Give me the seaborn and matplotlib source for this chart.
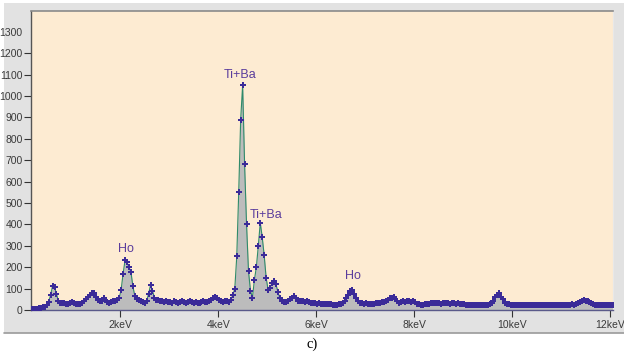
import numpy as np
import pandas as pd
import matplotlib
matplotlib.use("Agg")
import matplotlib.pyplot as plt
from matplotlib.patches import Rectangle
import seaborn as sns

# ---- data (EDS spectrum, counts per channel, 0.04 keV channels starting at 0.18 keV)
e_start = 0.18
e_step = 0.04
counts = [
    4, 5, 4, 6, 8, 9, 12, 16, 25, 38, 70, 112, 108, 75, 40, 34, 32, 35, 30, 28, 31, 38, 35, 30, 28,
    30, 35, 42, 52, 62, 70, 78, 80, 62, 48, 40, 44, 55, 48, 38, 35, 37, 40, 44, 46, 55, 95, 170, 232, 222,
    200, 178, 110, 65, 52, 46, 42, 36, 32, 42, 75, 117, 88, 58, 48, 45, 42, 40, 38, 41, 37, 39, 35, 40, 37,
    35, 38, 42, 36, 34, 38, 40, 36, 34, 38, 35, 33, 37, 40, 36, 38, 42, 47, 55, 62, 56, 46, 40, 38, 42,
    40, 38, 48, 70, 100, 250, 550, 890, 1051, 680, 400, 180, 90, 58, 140, 200, 300, 408, 340, 255, 150, 95, 105, 125, 137,
    120, 85, 55, 40, 38, 36, 42, 50, 58, 65, 55, 42, 40, 44, 42, 38, 40, 36, 34, 35, 32, 30, 31, 28, 30,
    28, 27, 29, 26, 25, 24, 23, 26, 28, 32, 40, 55, 70, 90, 92, 75, 55, 40, 34, 32, 30, 31, 29, 30, 28,
    30, 32, 31, 34, 36, 38, 42, 48, 54, 58, 62, 52, 40, 34, 36, 40, 38, 42, 40, 38, 40, 36, 30, 26, 24,
    23, 26, 28, 30, 32, 31, 33, 34, 32, 30, 33, 35, 34, 31, 30, 33, 31, 29, 32, 30, 27, 26, 25, 24, 23,
    24, 23, 25, 24, 23, 22, 24, 23, 25, 26, 32, 42, 60, 72, 78, 62, 50, 34, 28, 26, 25, 24, 25, 23, 24,
    23, 22, 24, 23, 25, 22, 23, 24, 22, 23, 25, 24, 22, 23, 24, 23, 22, 24, 23, 25, 24, 23, 22, 24, 25,
    24, 26, 25, 28, 32, 38, 44, 47, 40, 42, 39, 32, 27, 24, 23, 22, 23, 22, 24, 22, 23, 22, 23,
]
x_ticks = [2, 4, 6, 8, 10, 12]
x_tick_labels = ["2keV", "4keV", "6keV", "8keV", "10keV", "12keV"]
y_ticks = list(range(0, 1400, 100))
peak_labels = ["Ti+Ba", "Ti+Ba", "Ho", "Ho"]
peak_label_x = [4.45, 4.97, 2.12, 6.76]
peak_label_y = [1098, 444, 285, 159]

energy = np.round(e_start + e_step * np.arange(len(counts)), 2)
df = pd.DataFrame({"energy": energy, "counts": counts})

# ---- figure
sns.set_style("white")
plt.rcParams["font.family"] = ["Liberation Sans", "DejaVu Sans"]

W, H = 624, 359
fig = plt.figure(figsize=(W / 100, H / 100), dpi=100)
fig.patch.set_facecolor("white")
panel = Rectangle((4 / W, (H - 333) / H), 620 / W, 330 / H, transform=fig.transFigure,
                  facecolor="#e2e2e2", edgecolor="none", zorder=-10)
fig.add_artist(panel)
fig.add_artist(plt.Line2D([4 / W, 1], [(H - 333) / H] * 2, transform=fig.transFigure,
                          color="#9a9a9a", lw=1.2, zorder=-5))

ax = fig.add_axes([31 / W, (H - 310) / H, 582 / W, 299 / H])
ax.set_zorder(1)
ax.set_facecolor("#fdebd2")

ax.fill_between(df["energy"], 0, df["counts"], color="#bcbcbc", lw=0, zorder=1)
sns.lineplot(data=df, x="energy", y="counts", ax=ax, color="#2f8a6a", lw=0.8, zorder=2)
sns.scatterplot(data=df, x="energy", y="counts", ax=ax, color="#3b2b98", marker="P",
                s=20, linewidth=0, zorder=3)

ax.set_xlim(e_start, 12.06)
ax.set_ylim(0, 1397)
ax.set_xlabel("")
ax.set_ylabel("")

ax.set_xticks(x_ticks)
ax.set_xticklabels(x_tick_labels)
ax.set_yticks(y_ticks)
ax.set_yticklabels([str(v) for v in y_ticks])
ax.tick_params(axis="x", direction="out", length=5, width=0.8, color="#333333",
               labelsize=7.5, labelcolor="#3a3a3a", pad=2, bottom=True)
ax.tick_params(axis="y", direction="out", length=5, width=0.8, color="#333333",
               labelsize=7.5, labelcolor="#3a3a3a", pad=1, left=True)
ax.yaxis.get_major_ticks()[-1].tick1line.set_visible(False)

ax.spines["left"].set_color("#555555")
ax.spines["left"].set_linewidth(1.0)
ax.spines["bottom"].set_color("#5a5a8a")
ax.spines["bottom"].set_linewidth(1.0)
ax.spines["top"].set_color("#8a8a8a")
ax.spines["top"].set_linewidth(1.2)
ax.spines["right"].set_color("#e8e8e8")
ax.spines["right"].set_linewidth(0.8)

for t, xx, yy in zip(peak_labels, peak_label_x, peak_label_y):
    ax.text(xx, yy, t, ha="center", va="center", color="#5a3c9c", fontsize=9, zorder=4)

fig.text(312 / W, 1 - 344 / H, "c)", ha="center", va="center", fontsize=10.5,
         family=["Liberation Serif", "DejaVu Serif"], color="black")

fig.savefig("out.png", dpi=100)
